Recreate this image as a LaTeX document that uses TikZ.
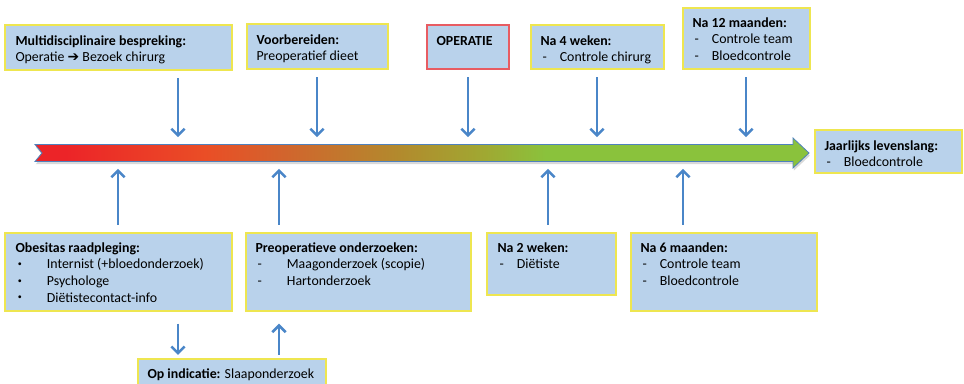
\documentclass[tikz,border=0pt]{standalone}
\usepackage{fontspec}
\setmainfont{Carlito}
\newfontfamily\symfont{DejaVu Sans}
\usetikzlibrary{arrows.meta,fit,shadows}

\definecolor{boxblue}{RGB}{185,210,235}
\definecolor{boxyellow}{RGB}{238,230,80}
\definecolor{opred}{RGB}{232,92,98}
\definecolor{flowblue}{RGB}{74,134,200}
\definecolor{tlborder}{RGB}{79,129,189}
\definecolor{tlred}{RGB}{236,36,40}
\definecolor{tlorange}{RGB}{234,78,38}
\definecolor{tlrust}{RGB}{210,100,45}
\definecolor{tlolive}{RGB}{178,138,45}
\definecolor{tlkhaki}{RGB}{160,168,50}
\definecolor{tlgreen}{RGB}{138,194,60}

\pgfdeclarehorizontalshading{timeline}{100bp}{color(0bp)=(tlred); color(27bp)=(tlred); color(36bp)=(tlorange); color(41bp)=(tlrust); color(48.5bp)=(tlolive); color(54bp)=(tlkhaki); color(58bp)=(tlgreen); color(100bp)=(tlgreen)}

\newcommand{\shortdash}{\makebox[14.5pt][l]{\hspace{1.5pt}-}}
\newcommand{\longdash}{\makebox[23.5pt][l]{\hspace{1.5pt}-}}
\newcommand{\longdot}{\makebox[23.5pt][l]{\hspace{1.8pt}\raisebox{0.35ex}{\fontsize{6pt}{6pt}\selectfont\textbullet}}}

\begin{document}
\begin{tikzpicture}[x=0.75pt,y=-0.75pt,
  box/.style={draw=boxyellow,line width=1.1pt,fill=boxblue,inner sep=0pt},
  txt/.style={anchor=north west,inner sep=0pt,align=left,font=\fontsize{10.4pt}{12.5pt}\selectfont},
  flow/.style={draw=flowblue,line width=1.9pt,shorten <=5.5pt,shorten >=5.5pt,-{Straight Barb[length=5pt,width=10pt]}}]
\useasboundingbox (0,0) rectangle (964,384);
\clip (0,0) rectangle (964,384);

% Timeline
\shadedraw[shading=timeline,draw=tlborder,line width=0.6pt,
  drop shadow={shadow xshift=0.6pt,shadow yshift=-2pt,opacity=0.3}]
  (35,144.5) -- (793,144.5) -- (793,138) -- (809,153) -- (793,168)
  -- (793,161.5) -- (35,161.5) -- (42,153) -- cycle;
\coordinate (t1) at (178,144.5);
\coordinate (t2) at (317,144.5);
\coordinate (t3) at (468,144.5);
\coordinate (t4) at (597,144.5);
\coordinate (t5) at (746,144.5);
\coordinate (b1) at (118,161.5);
\coordinate (b2) at (279,161.5);
\coordinate (b3) at (548,161.5);
\coordinate (b4) at (683,161.5);

% Boxes above the timeline
\node[box,fit={(5,25) (232,70)}] (mdo) {};
\node[txt] at ([shift={(11,9)}]mdo.north west) {\strut\textbf{Multidisciplinaire bespreking:}\\Operatie {\symfont ➔} Bezoek chirurg};
\node[box,fit={(247,24) (388,69)}] (vbr) {};
\node[txt] at ([shift={(10,9)}]vbr.north west) {\strut\textbf{Voorbereiden:}\\Preoperatief dieet};
\node[box,draw=opred,fit={(427,25) (509,69)}] (ope) {};
\node[txt] at ([shift={(10,9)}]ope.north west) {\strut\textbf{OPERATIE}};
\node[box,fit={(531,25) (664,69)}] (n4w) {};
\node[txt] at ([shift={(10,9)}]n4w.north west) {\strut\textbf{Na 4 weken:}\\\shortdash Controle chirurg};
\node[box,fit={(683,8) (810,69)}] (n12m) {};
\node[txt] at ([shift={(10,8)}]n12m.north west) {\strut\textbf{Na 12 maanden:}\\\shortdash Controle team\\\shortdash Bloedcontrole};

% Box after the timeline
\node[box,fit={(815,130) (962,173)}] (jll) {};
\node[txt] at ([shift={(10,9)}]jll.north west) {\strut\textbf{Jaarlijks levenslang:}\\\shortdash Bloedcontrole};

% Boxes below the timeline
\node[box,fit={(5,233) (232,311)}] (obr) {};
\node[txt] at ([shift={(11,8)}]obr.north west) {\strut\textbf{Obesitas raadpleging:}\\\longdot Internist (+bloedonderzoek)\\\longdot Psychologe\\\longdot Diëtistecontact-info};
\node[box,fit={(246,233) (471,311)}] (poz) {};
\node[txt] at ([shift={(10,8)}]poz.north west) {\strut\textbf{Preoperatieve onderzoeken:}\\\longdash Maagonderzoek (scopie)\\\longdash Hartonderzoek};
\node[box,fit={(487,233) (616,295)}] (n2w) {};
\node[txt] at ([shift={(11,8)}]n2w.north west) {\strut\textbf{Na 2 weken:}\\\shortdash Diëtiste};
\node[box,fit={(631,233) (817,311)}] (n6m) {};
\node[txt] at ([shift={(10,8)}]n6m.north west) {\strut\textbf{Na 6 maanden:}\\\shortdash Controle team\\\shortdash Bloedcontrole};
\node[box,fit={(138,359) (326,396)}] (opi) {};
\node[txt] at ([shift={(10,8)}]opi.north west) {\strut\textbf{Op indicatie:} Slaaponderzoek};

% Arrows towards the timeline
\draw[flow] (mdo.south -| t1) -- (t1);
\draw[flow] (vbr.south -| t2) -- (t2);
\draw[flow] (ope.south -| t3) -- (t3);
\draw[flow] (n4w.south -| t4) -- (t4);
\draw[flow] (n12m.south -| t5) -- (t5);
\draw[flow] (obr.north -| b1) -- (b1);
\draw[flow] (poz.north -| b2) -- (b2);
\draw[flow] (n2w.north -| b3) -- (b3);
\draw[flow] (n6m.north -| b4) -- (b4);

% Sleep study loop
\draw[flow,shorten <=9pt,shorten >=2.5pt] (obr.south -| t1) -- (opi.north -| t1);
\draw[flow,shorten <=2.5pt,shorten >=9pt] (opi.north -| b2) -- (poz.south -| b2);

\end{tikzpicture}
\end{document}
